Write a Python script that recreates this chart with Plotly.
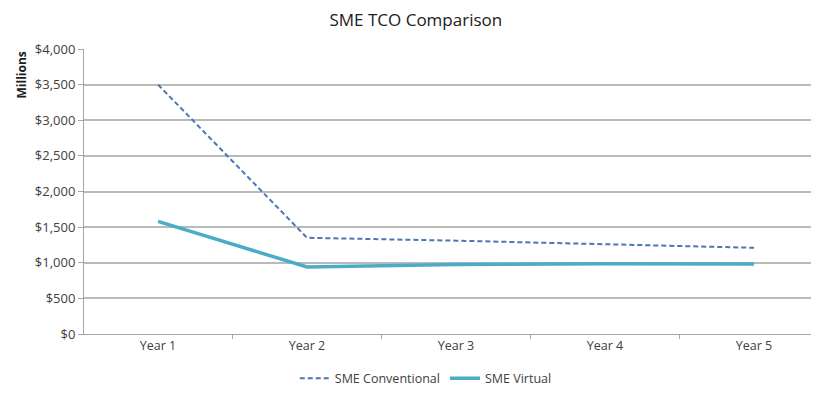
import plotly.graph_objects as go

categories = ["Year 1", "Year 2", "Year 3", "Year 4", "Year 5"]
conventional = [3500, 1350, 1310, 1265, 1210]
virtual = [1580, 940, 975, 985, 982]
y_ticks = [0, 500, 1000, 1500, 2000, 2500, 3000, 3500, 4000]
y_tick_labels = ["$0", "$500", "$1,000", "$1,500", "$2,000", "$2,500", "$3,000", "$3,500", "$4,000"]

font_family = "Open Sans, Lato, sans-serif"

fig = go.Figure()
fig.add_trace(go.Scatter(
    x=categories, y=conventional, mode="lines", name="SME Conventional",
    line=dict(color="#4F76B0", width=2, dash="5px,3px"),
))
fig.add_trace(go.Scatter(
    x=categories, y=virtual, mode="lines", name="SME Virtual",
    line=dict(color="#4BACC6", width=3.5),
))

fig.update_layout(
    width=819, height=393,
    margin=dict(l=76, r=8, t=41, b=67, autoexpand=False),
    paper_bgcolor="white", plot_bgcolor="white",
    font=dict(family=font_family, size=12.5, color="#404040"),
    title=dict(text="SME TCO Comparison", x=0.498, xanchor="center", y=1 - 12 / 393, yanchor="middle",
               font=dict(size=17, color="#202020", family=font_family)),
    showlegend=True,
    legend=dict(orientation="h", x=0.465, xanchor="center", y=-0.157, yanchor="middle",
                font=dict(size=12.5, color="#404040"), tracegroupgap=0),
    xaxis=dict(
        type="category", range=[-0.497, 4.436], showgrid=False,
        showline=True, linecolor="#A6A6A6", linewidth=1,
        ticks="outside", ticklen=4, tickcolor="#A6A6A6", tickson="boundaries",
        tickfont=dict(size=12.5, color="#404040"), fixedrange=True,
    ),
    yaxis=dict(
        range=[0, 4000], tickvals=y_ticks, ticktext=y_tick_labels,
        showgrid=True, gridcolor="#BABABA", gridwidth=1.5,
        showline=True, linecolor="#A6A6A6", linewidth=1,
        ticks="outside", ticklen=5, tickcolor="#A6A6A6",
        tickfont=dict(size=13, color="#404040"), zeroline=False,
    ),
    annotations=[dict(
        text="<b>Millions</b>", xref="paper", yref="paper", x=-0.085, y=0.909,
        textangle=-90, showarrow=False, xanchor="center", yanchor="middle",
        font=dict(size=12, color="#202020", family=font_family),
    )],
)

fig.write_html("out.html")
